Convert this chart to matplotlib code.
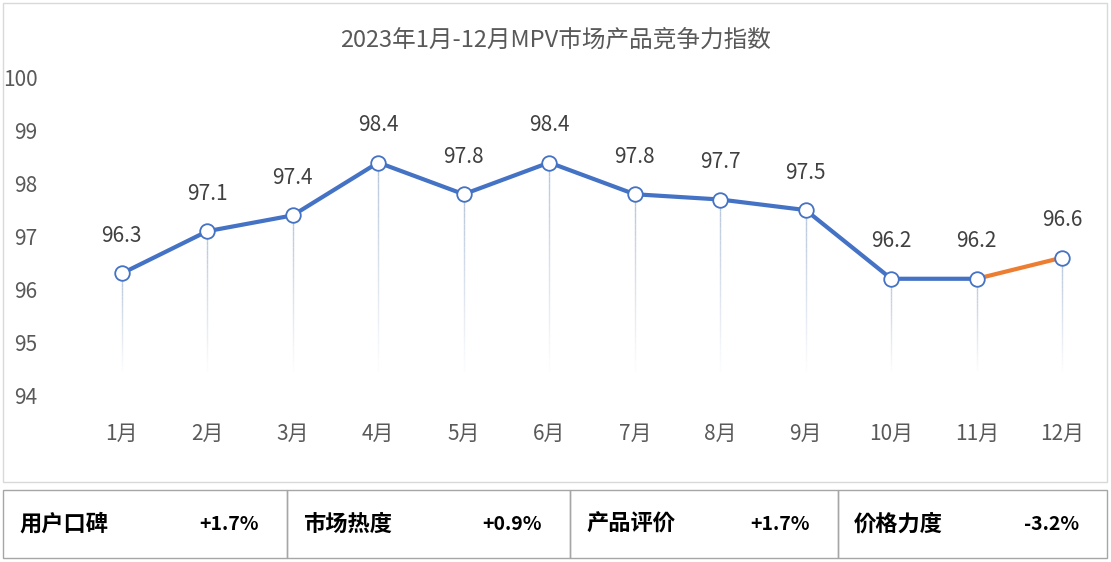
import matplotlib
matplotlib.use("Agg")
import matplotlib.pyplot as plt
from matplotlib.patches import Rectangle
from matplotlib import font_manager
import numpy as np

cjk = [f.name for f in font_manager.fontManager.ttflist if "CJK" in f.name]
pref = [n for n in ["Noto Sans CJK SC", "Noto Sans CJK JP", "Noto Sans CJK TC", "Noto Sans CJK KR"] if n in cjk]
fams = (pref or cjk[:1]) + ["DejaVu Sans"]
plt.rcParams['font.family'] = fams

months = ["1月","2月","3月","4月","5月","6月","7月","8月","9月","10月","11月","12月"]
values = [96.3, 97.1, 97.4, 98.4, 97.8, 98.4, 97.8, 97.7, 97.5, 96.2, 96.2, 96.6]
yticks = [94, 95, 96, 97, 98, 99, 100]
metric_names = ["用户口碑", "市场热度", "产品评价", "价格力度"]
metric_values = ["+1.7%", "+0.9%", "+1.7%", "-3.2%"]

W, H = 1111, 562
fig = plt.figure(figsize=(W/100, H/100), dpi=100)

def fx(p): return p / W
def fy(p): return 1 - p / H

fig.add_artist(Rectangle((fx(3), fy(482)), fx(1104), 479/H, fill=False, ec="#d9d9d9", lw=1))

ax = fig.add_axes([fx(79), fy(395), fx(1026), (395-78)/H])
x = np.arange(len(months))
ax.set_xlim(-0.5, len(months)-0.5)
ax.set_ylim(94, 100)

for xi, v in zip(x, values):
    n = 30
    ys = np.linspace(v, 94.45, n+1)
    for k in range(n):
        ax.plot([xi, xi], [ys[k], ys[k+1]], color="#aebfd8", lw=1, alpha=0.9*(1-k/n), zorder=1, solid_capstyle='butt')

ax.plot(x[:11], values[:11], color="#4472C4", lw=3, zorder=2)
ax.plot(x[10:], values[10:], color="#ED7D31", lw=3, zorder=2)
ax.scatter(x, values, s=110, facecolor="white", edgecolor="#4472C4", lw=1.3, zorder=3)

for xi, v in zip(x, values):
    ax.text(xi, v + 0.5, f"{v:.1f}", ha="center", va="bottom", fontsize=15, color="#404040")

ax.set_yticks(yticks)
ax.set_yticklabels([str(t) for t in yticks], fontsize=15, color="#595959")
ax.set_xticks(x)
ax.set_xticklabels(months, fontsize=15, color="#595959")
ax.tick_params(length=0)
ax.tick_params(axis='y', pad=30)
ax.tick_params(axis='x', pad=20)
for s in ax.spines.values():
    s.set_visible(False)

fig.text(fx(556), fy(40), "2023年1月-12月MPV市场产品竞争力指数", ha="center", va="center", fontsize=17, color="#595959")

edges = [3, 287, 570, 838, 1107]
for i in range(4):
    l, r = edges[i], edges[i+1]
    fig.add_artist(Rectangle((fx(l), fy(558)), fx(r-l), 68/H, fill=False, ec="#a6a6a6", lw=1))
    fig.text(fx(l+16), fy(524), metric_names[i], ha="left", va="center", fontsize=16, fontweight="bold", color="black")
    fig.text(fx(r-28), fy(524), metric_values[i], ha="right", va="center", fontsize=14, fontweight="bold", color="black")

fig.savefig("out.png", dpi=100)
